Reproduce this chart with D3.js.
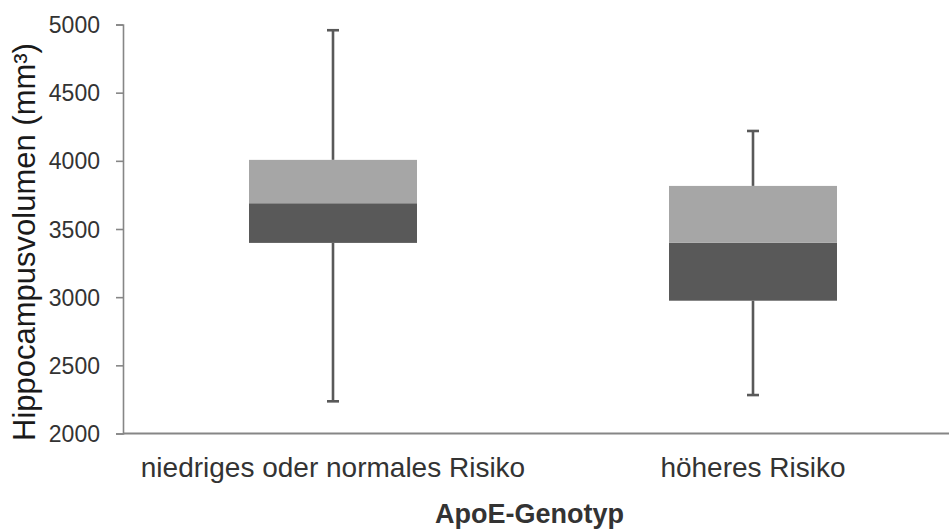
<!DOCTYPE html>
<html>
<head>
<meta charset="utf-8">
<script src="https://cdn.jsdelivr.net/npm/d3@7"></script>
<style>
  html, body { margin: 0; padding: 0; background: #fff; }
  svg { display: block; }
  text { font-family: "Liberation Sans", Arial, sans-serif; }
</style>
</head>
<body>
<svg id="chart" width="949" height="529"></svg>
<script>
const categories = ["niedriges oder normales Risiko", "höheres Risiko"];
const whiskerLow  = [2236, 2282];
const boxLow      = [3398, 2974];
const median      = [3689, 3400];
const boxHigh     = [4007, 3816];
const whiskerHigh = [4958, 4219];
const yTicks = [2000, 2500, 3000, 3500, 4000, 4500, 5000];
const yTitle = "Hippocampusvolumen (mm³)";
const xTitle = "ApoE-Genotyp";

const W = 949, H = 529;
const plotLeft = 123, plotTop = 24.5, plotBottom = 433.5;

const svg = d3.select("#chart");

const y = d3.scaleLinear().domain([2000, 5000]).range([plotBottom, plotTop]);
const x = d3.scaleBand().domain(categories).range([plotLeft, plotLeft + 840]).paddingInner(0).paddingOuter(0);
const boxW = x.bandwidth() * 0.4;

const data = categories.map((c, i) => ({
  c, lo: whiskerLow[i], q1: boxLow[i], med: median[i], q3: boxHigh[i], hi: whiskerHigh[i]
}));

const wColor = "#595959";

const g = svg.append("g");
data.forEach(d => {
  const cx = x(d.c) + x.bandwidth() / 2;
  g.append("line").attr("x1", cx).attr("x2", cx).attr("y1", y(d.hi)).attr("y2", y(d.q3))
    .attr("stroke", wColor).attr("stroke-width", 2.6);
  g.append("line").attr("x1", cx).attr("x2", cx).attr("y1", y(d.q1)).attr("y2", y(d.lo))
    .attr("stroke", wColor).attr("stroke-width", 2.6);
  g.append("line").attr("x1", cx - 6).attr("x2", cx + 6).attr("y1", y(d.hi)).attr("y2", y(d.hi))
    .attr("stroke", wColor).attr("stroke-width", 2.6);
  g.append("line").attr("x1", cx - 6).attr("x2", cx + 6).attr("y1", y(d.lo)).attr("y2", y(d.lo))
    .attr("stroke", wColor).attr("stroke-width", 2.6);
  g.append("rect").attr("x", cx - boxW / 2).attr("width", boxW)
    .attr("y", y(d.med)).attr("height", y(d.q1) - y(d.med))
    .attr("fill", "#595959");
  g.append("rect").attr("x", cx - boxW / 2).attr("width", boxW)
    .attr("y", y(d.q3)).attr("height", y(d.med) - y(d.q3))
    .attr("fill", "#a6a6a6");
});

// y axis
const yAxis = d3.axisLeft(y).tickValues(yTicks).tickSize(7).tickPadding(16).tickFormat(d3.format("d"));
const ya = svg.append("g").attr("transform", `translate(${plotLeft},0)`).call(yAxis);
ya.select(".domain").attr("stroke", "#868686").attr("stroke-width", 1.6);
ya.selectAll(".tick line").attr("stroke", "#868686").attr("stroke-width", 1.6);
ya.selectAll(".tick text").attr("fill", "#333333").style("font-size", "23px").attr("dy", "0.35em");

// x axis
const xAxis = d3.axisBottom(x).tickSize(0).tickPadding(0);
const xa = svg.append("g").attr("transform", `translate(0,${plotBottom})`).call(xAxis);
xa.select(".domain").remove();
xa.append("line").attr("x1", plotLeft).attr("x2", W).attr("y1", 0).attr("y2", 0)
  .attr("stroke", "#868686").attr("stroke-width", 2);
xa.selectAll(".tick text").attr("fill", "#333333").style("font-size", "28px")
  .attr("dy", null).attr("y", 43);

// titles
svg.append("text").attr("transform", `translate(35,441) rotate(-90)`)
  .attr("text-anchor", "start").attr("fill", "#1a1a1a").style("font-size", "31px")
  .text(yTitle);
svg.append("text").attr("x", 435).attr("y", 523).attr("text-anchor", "start")
  .attr("fill", "#333333").style("font-size", "27px").style("font-weight", "bold")
  .text(xTitle);
</script>
</body>
</html>
